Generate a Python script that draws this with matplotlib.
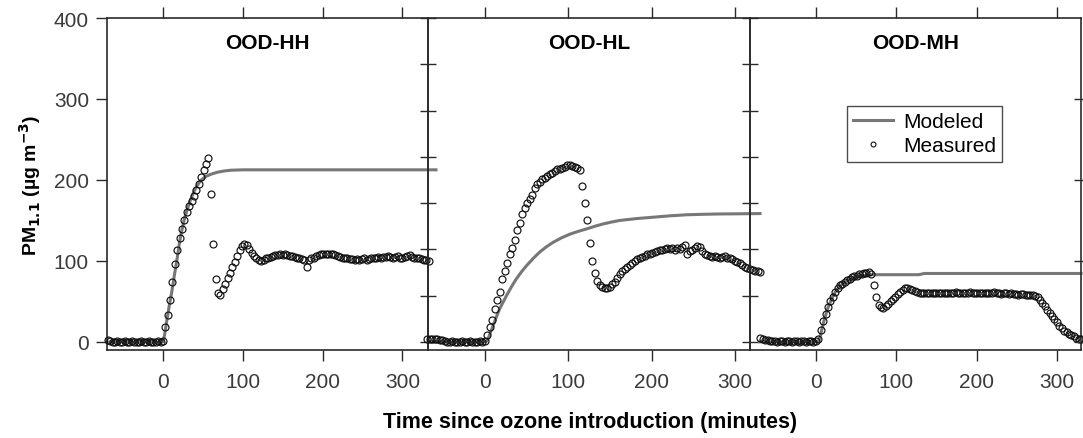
import numpy as np
import matplotlib
matplotlib.use("Agg")
import matplotlib.pyplot as plt
from matplotlib.lines import Line2D

plt.rcParams['font.family'] = ['Liberation Sans', 'DejaVu Sans']

panel_titles = ["OOD-HH", "OOD-HL", "OOD-MH"]

# ---- measured data (3-min sampling, start time given) ----
hh_t0, hh_dt = -69, 3
hh_meas = [2, 1, 0, 0, 1, 0, 0, 1, 0, 0, 1, 0, 0, 0, 1, 0, 0, 1, 0, 0, 0, 1, 0,
           1, 18, 33, 52, 74, 96, 114, 128, 140, 151, 161, 168, 174, 180, 187, 195,
           204, 212, 220, 227, 183, 121, 78, 61, 58, 65, 72, 79, 85, 92, 99, 106,
           113, 118, 121, 120, 115, 110, 106, 103, 101, 100, 101, 103, 104, 105, 106,
           107, 107, 108, 107, 108, 107, 106, 106, 105, 104, 103, 102, 101, 93, 101,
           103, 104, 106, 107, 108, 108, 109, 109, 108, 108, 107, 106, 105, 104, 104,
           103, 102, 102, 101, 102, 101, 102, 103, 101, 102, 103, 104, 104, 105, 104,
           105, 105, 106, 105, 104, 105, 106, 103, 104, 105, 106, 107, 105, 104, 103,
           103, 102, 101, 101, 100]

hl_t0, hl_dt = -69, 3
hl_meas = [3, 3, 4, 3, 3, 2, 2, 1, 0, 0, 1, 0, 0, 0, 1, 0, 0, 1, 0, 0, 0, 1, 0,
           1, 8, 18, 27, 41, 52, 62, 78, 88, 97, 109, 116, 126, 138, 147, 158, 165,
           171, 177, 182, 190, 195, 198, 201, 203, 205, 207, 209, 211, 213, 214, 215,
           216, 218, 219, 217, 216, 215, 212, 192, 172, 150, 122, 100, 85, 75, 70, 68,
           66, 66, 68, 71, 74, 79, 84, 87, 90, 93, 95, 98, 100, 102, 103, 105, 106,
           108, 109, 110, 111, 112, 113, 114, 115, 116, 115, 116, 114, 116, 115, 117,
           120, 108, 112, 114, 116, 118, 117, 112, 109, 107, 106, 105, 106, 105, 104,
           105, 106, 104, 103, 102, 100, 99, 97, 95, 93, 91, 90, 89, 88, 87, 86]

mh_t0, mh_dt = -69, 3
mh_meas = [4.5, 3, 2, 2, 1, 1, 1, 0, 1, 1, 0, 1, 1, 0, 1, 1, 0, 1, 1, 0, 1, 1, 0,
           1, 4, 15, 26, 35, 43, 50, 56, 62, 67, 70, 72, 74, 76, 78, 80, 81, 82, 84,
           84, 85, 85, 86, 84, 70, 55, 46, 43, 42, 44, 47, 50, 53, 56, 59, 62, 64, 66,
           66, 65, 64, 63, 62, 61, 60, 60, 60, 61, 61, 60, 61, 61, 60, 61, 61, 60, 61,
           61, 62, 61, 61, 61, 60, 61, 62, 61, 61, 60, 61, 61, 60, 61, 61, 60, 62, 61,
           61, 59, 60, 60, 59, 60, 59, 59, 58, 59, 59, 58, 58, 58, 58, 57, 55, 52, 48,
           44, 40, 36, 32, 28, 24, 20, 17, 14, 12, 10, 8, 7, 5, 4, 3]

# ---- modeled curves ----
hh_mod_t = [-70, 0, 2, 5, 8, 11, 14, 18, 21, 24, 27, 30, 34, 39, 43, 47, 53, 60, 68,
            76, 85, 100, 120, 342]
hh_mod = [0, 0, 8, 27, 45, 61, 80, 104, 124, 139, 152, 162, 174, 186, 193, 199, 204,
          207, 209.5, 211, 212, 212.5, 212.5, 212.5]

hl_mod_t = [-68, 0, 2, 4, 7, 10, 14, 18, 22, 26, 32, 38, 44, 50, 58, 66, 74, 82, 92,
            102, 112, 122, 132, 142, 152, 162, 182, 202, 222, 242, 262, 282, 306, 330]
hl_mod = [0, 0, 0.5, 3.7, 12, 20, 31, 41, 49, 57, 68, 78, 86.5, 94, 103, 111, 117.5,
          123, 128.5, 133, 136.5, 139.5, 142.8, 145.7, 148, 150, 152.3, 154, 155.7,
          157, 157.6, 158, 158.2, 158.5]

mh_mod_t = [-70, 0, 3, 6, 10, 15, 20, 25, 30, 35, 40, 50, 60, 70, 80, 100, 128, 135, 330]
mh_mod = [0, 0, 0, 9, 26, 42, 54, 63, 69, 73, 76, 80, 82, 83, 83, 83, 83, 84.5, 84.5]

x_ticks = [0, 100, 200, 300]
y_ticks = [0, 100, 200, 300, 400]

panels = [
    (hh_t0, hh_dt, hh_meas, hh_mod_t, hh_mod, (-70, 332)),
    (hl_t0, hl_dt, hl_meas, hl_mod_t, hl_mod, (-68, 318)),
    (mh_t0, mh_dt, mh_meas, mh_mod_t, mh_mod, (-82, 330)),
]

W, H = 1083, 439
fig = plt.figure(figsize=(W / 100, H / 100), dpi=100)
edges = [107, 428, 750, 1081]
top_px, bot_px = 19, 351
spine_col = '#2a2a2a'
line_col = '#777777'
tick_col = '#3a3a3a'

axes = []
for i, (t0, dt, meas, mt, mv, xl) in enumerate(panels):
    left = edges[i] / W
    width = (edges[i + 1] - edges[i]) / W
    ax = fig.add_axes([left, 1 - bot_px / H, width, (bot_px - top_px) / H])
    ax.patch.set_visible(False)
    t = t0 + dt * np.arange(len(meas))
    ax.plot(mt, mv, color=line_col, lw=2.2, clip_on=False, zorder=2, label='Modeled')
    ax.plot(t, meas, linestyle='none', marker='o', ms=5.0, mfc='none', mec='#111111',
            mew=0.85, clip_on=False, zorder=3, label='Measured')
    ax.set_xlim(*xl)
    ax.set_ylim(-10, 400)
    for s in ax.spines.values():
        s.set_color(spine_col)
        s.set_linewidth(1.2)
    ax.set_xticks(x_ticks)
    ax.tick_params(axis='x', which='both', bottom=True, top=True, direction='out',
                   length=8, width=1.0, color=spine_col, labelsize=15,
                   labelcolor=tick_col, pad=8)
    ax.text(0.5, 0.925, panel_titles[i], transform=ax.transAxes, ha='center',
            va='center', fontsize=15, fontweight='bold')
    if i == 0:
        ax.set_yticks(y_ticks)
        ax.tick_params(axis='y', left=True, right=False, direction='out', length=8,
                       width=1.0, color=spine_col, labelsize=15, labelcolor=tick_col,
                       pad=5)
    else:
        ax.set_yticks([k * 400 / 7 for k in range(8)])
        ax.tick_params(axis='y', left=True, right=False, direction='inout', length=11,
                       width=1.0, color=spine_col, labelleft=False)
    axes.append(ax)

# right-side ticks of last panel
axr = axes[2].twinx()
axr.set_ylim(-10, 400)
axr.set_yticks([0, 100, 200, 300])
axr.tick_params(axis='y', direction='inout', length=10, width=1.0, color=spine_col,
                labelright=False)
for s in axr.spines.values():
    s.set_visible(False)

# legend in last panel
handles = [Line2D([], [], color=line_col, lw=2.2),
           Line2D([], [], linestyle='none', marker='o', ms=3.5, mfc='none',
                  mec='#111111', mew=0.8)]
leg = axes[2].legend(handles, ['Modeled', 'Measured'], loc='upper left',
                     bbox_to_anchor=(0.293, 0.735), borderaxespad=0, fontsize=15,
                     frameon=True, fancybox=False, handlelength=1.9,
                     handletextpad=0.5, borderpad=0.3, labelspacing=0.25)
leg.get_frame().set_edgecolor('#222222')
leg.get_frame().set_linewidth(1.0)

fig.text(0.028, (H - 185) / H, 'PM$_{\\mathbf{1.1}}$ (µg m$^{\\mathbf{-3}}$)',
         rotation=90, ha='center', va='center', fontsize=14, fontweight='bold')
fig.text(590 / W, 1 - 423 / H, 'Time since ozone introduction (minutes)',
         ha='center', va='center', fontsize=15.5, fontweight='bold')

fig.savefig('out.png', dpi=100)
